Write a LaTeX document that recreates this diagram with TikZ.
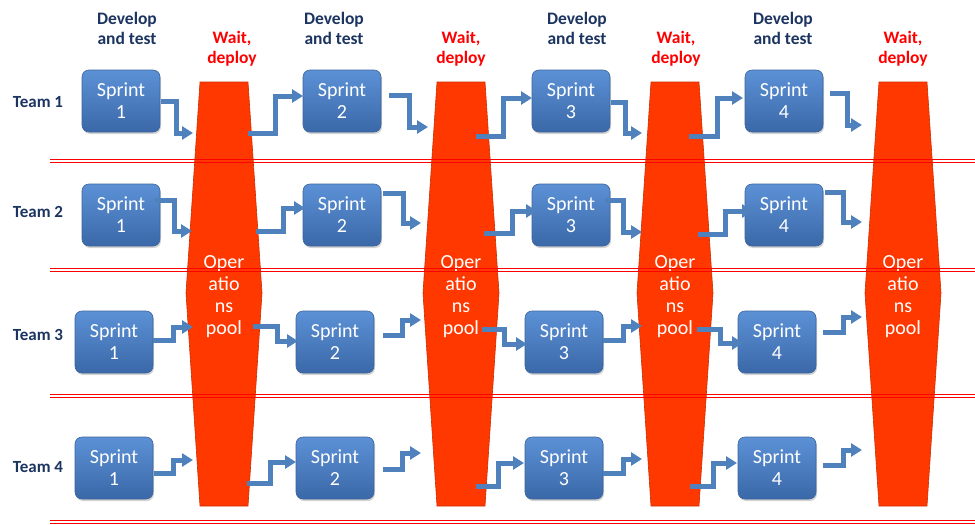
\documentclass[tikz,border=0pt]{standalone}
\usepackage{fontspec}
\setmainfont{Carlito}
\usetikzlibrary{arrows.meta,shadows}
\definecolor{boxtop}{RGB}{92,145,214}
\definecolor{boxbot}{RGB}{58,104,168}
\definecolor{boxedge}{RGB}{60,100,155}
\definecolor{flowblue}{RGB}{79,129,189}
\definecolor{poolred}{RGB}{255,56,0}
\definecolor{pooledge}{RGB}{205,45,0}
\definecolor{navy}{RGB}{28,52,96}
\tikzset{
  sprintbox/.style={rectangle, rounded corners=7pt, minimum width=78pt, minimum height=62pt,
    top color=boxtop, bottom color=boxbot, draw=boxedge, line width=0.6pt,
    drop shadow={shadow xshift=1pt, shadow yshift=-2pt, opacity=0.35},
    text=white, align=center, font=\fontsize{20}{22}\selectfont, inner sep=0pt},
  flow/.style={draw=flowblue, line width=5pt, -{Triangle[width=13pt,length=11pt]}},
  pool/.style={fill=poolred, draw=pooledge, line width=0.6pt},
  pooltext/.style={text=white, align=center, font=\fontsize{20}{22}\selectfont},
  devhead/.style={text=navy, align=center, font=\bfseries\fontsize{17.5}{20}\selectfont},
  waithead/.style={text=red, align=center, font=\bfseries\fontsize{17.5}{20}\selectfont},
  teamlabel/.style={text=navy, font=\bfseries\fontsize{17}{20}\selectfont},
  lane/.style={draw=red, line width=0.9pt}
}
\newcommand{\stepflow}[5]{\draw[flow] (#1,#2) -| (#3,#4) -- (#5,#4);}
\newcommand{\poolshape}[2]{%
  \draw[pool] (#1-24,82) -- (#1+24,82) -- (#1+38,293) -- (#1+24,506) -- (#1-24,506) -- (#1-38,293) -- cycle;
  \node[pooltext] (#2) at (#1,297) {Oper\\atio\\ns\\pool};}
\newcommand{\lanesep}[1]{%
  \draw[lane] (50,#1-1.4) -- (975,#1-1.4);
  \draw[lane] (50,#1+1.4) -- (975,#1+1.4);}
\begin{document}
\begin{tikzpicture}[x=1pt,y=-1pt]
\useasboundingbox (0,0) rectangle (975,525);
% headers
\node[devhead] (h1) at (127,28) {Develop\\and test};
\node[devhead] (h2) at (334,28) {Develop\\and test};
\node[devhead] (h3) at (577,28) {Develop\\and test};
\node[devhead] (h4) at (783,28) {Develop\\and test};
\node[waithead] (w1) at (232,49) {Wait,\\deploy};
\node[waithead] (w2) at (461,49) {Wait,\\deploy};
\node[waithead] (w3) at (676,49) {Wait,\\deploy};
\node[waithead] (w4) at (903,49) {Wait,\\deploy};
% team labels
\node[teamlabel] (t1) at (38,102) {Team 1};
\node[teamlabel] (t2) at (38,212) {Team 2};
\node[teamlabel] (t3) at (38,335) {Team 3};
\node[teamlabel] (t4) at (38,467) {Team 4};
% pools
\poolshape{224}{p1}
\poolshape{461}{p2}
\poolshape{675}{p3}
\poolshape{903}{p4}
% lane separators
\lanesep{161}
\lanesep{270}
\lanesep{396}
\lanesep{522}
% sprint boxes
\node[sprintbox] (s11) at (121,101) {Sprint\\1};
\node[sprintbox] (s12) at (342,101) {Sprint\\2};
\node[sprintbox] (s13) at (571,101) {Sprint\\3};
\node[sprintbox] (s14) at (784,101) {Sprint\\4};
\node[sprintbox] (s21) at (121,215) {Sprint\\1};
\node[sprintbox] (s22) at (342,215) {Sprint\\2};
\node[sprintbox] (s23) at (571,215) {Sprint\\3};
\node[sprintbox] (s24) at (784,215) {Sprint\\4};
\node[sprintbox] (s31) at (114,342) {Sprint\\1};
\node[sprintbox] (s32) at (335,342) {Sprint\\2};
\node[sprintbox] (s33) at (564,342) {Sprint\\3};
\node[sprintbox] (s34) at (777,342) {Sprint\\4};
\node[sprintbox] (s41) at (114,468) {Sprint\\1};
\node[sprintbox] (s42) at (335,468) {Sprint\\2};
\node[sprintbox] (s43) at (564,468) {Sprint\\3};
\node[sprintbox] (s44) at (777,468) {Sprint\\4};
% flows, pool 1
\stepflow{161}{101}{176}{133}{193}
\stepflow{248}{133}{275}{96}{303}
\stepflow{155}{200}{174}{231}{192}
\stepflow{256}{231}{283}{208}{305}
\stepflow{153}{340}{173}{327}{193}
\stepflow{253}{326}{277}{341}{298}
\stepflow{154}{473}{173}{460}{193}
\stepflow{247}{483}{270}{462}{296}
% pool 2
\stepflow{389}{95}{409}{127}{428}
\stepflow{476}{136}{503}{98}{532}
\stepflow{383}{193}{403}{223}{421}
\stepflow{484}{233}{512}{211}{537}
\stepflow{383}{335}{402}{320}{421}
\stepflow{482}{329}{504}{344}{527}
\stepflow{383}{469}{402}{453}{421}
\stepflow{476}{486}{498}{463}{524}
% pool 3
\stepflow{611}{102}{625}{133}{642}
\stepflow{689}{136}{717}{98}{743}
\stepflow{605}{200}{623}{232}{642}
\stepflow{698}{234}{725}{211}{753}
\stepflow{603}{340}{623}{326}{642}
\stepflow{697}{329}{720}{343}{743}
\stepflow{603}{473}{623}{459}{642}
\stepflow{690}{486}{713}{463}{737}
% pool 4
\stepflow{830}{93}{847}{125}{862}
\stepflow{825}{192}{843}{222}{862}
\stepflow{823}{332}{843}{317}{862}
\stepflow{823}{465}{843}{450}{862}
\end{tikzpicture}
\end{document}
